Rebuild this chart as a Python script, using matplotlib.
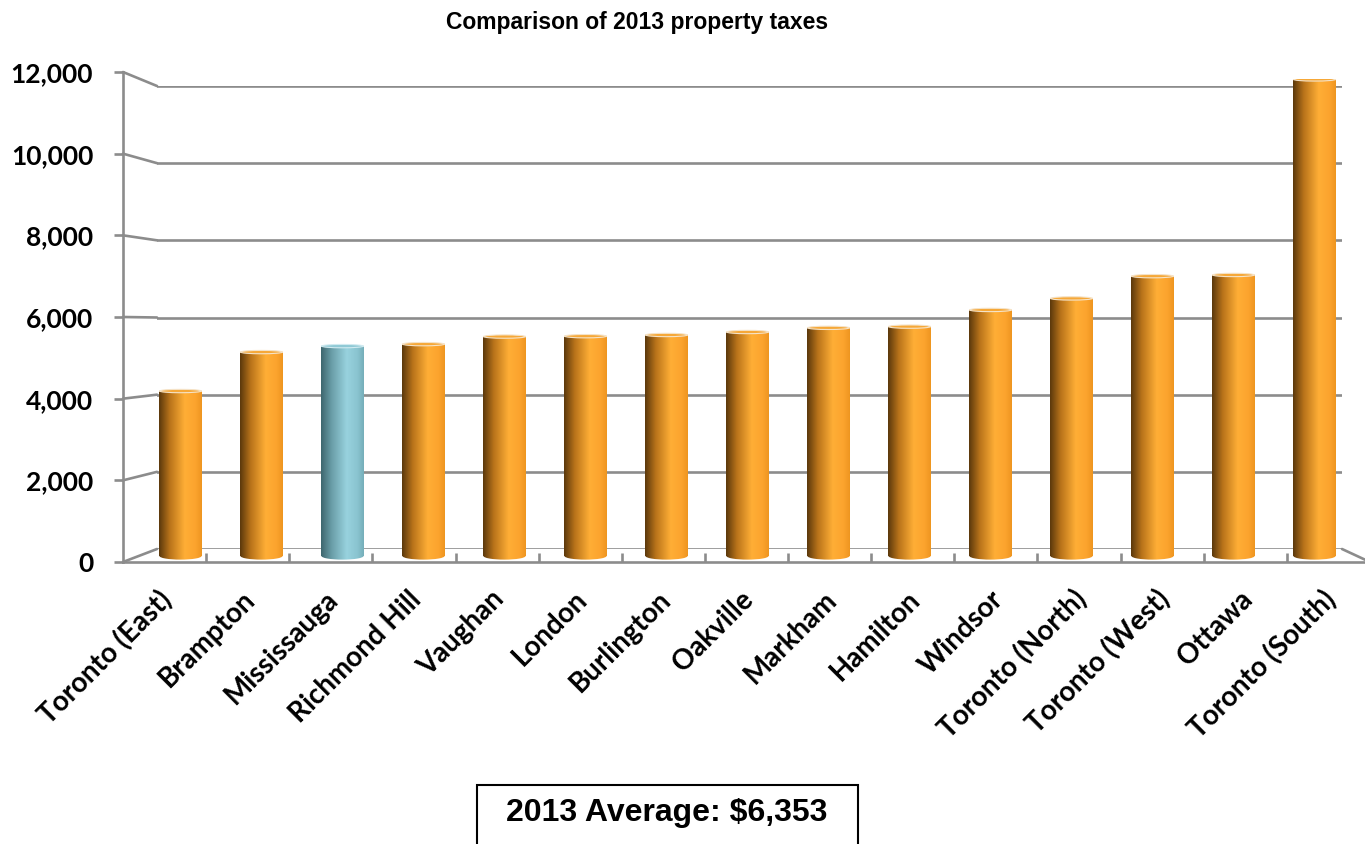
import matplotlib
matplotlib.use("Agg")
import matplotlib.pyplot as plt
import matplotlib.transforms as mtransforms
import numpy as np
from matplotlib.patches import ConnectionPatch, Ellipse, Rectangle
from matplotlib.colors import LinearSegmentedColormap

# ---- data ----
cities = ["Toronto (East)", "Brampton", "Mississauga", "Richmond Hill", "Vaughan",
          "London", "Burlington", "Oakville", "Markham", "Hamilton", "Windsor",
          "Toronto (North)", "Toronto (West)", "Ottawa", "Toronto (South)"]
taxes = [4150, 5130, 5280, 5330, 5520, 5530, 5560, 5635, 5740, 5770, 6190,
         6480, 7040, 7070, 11990]
highlight = "Mississauga"
y_ticks = [0, 2000, 4000, 6000, 8000, 10000, 12000]
title = "Comparison of 2013 property taxes"
average_text = "2013 Average: $6,353"

W, H = 1365, 844
fig = plt.figure(figsize=(W / 100, H / 100), dpi=100)
fig.patch.set_facecolor("white")

def px_axes(l, r, top, bottom):
    ax = fig.add_axes([l / W, 1 - bottom / H, (r - l) / W, (bottom - top) / H])
    ax.patch.set_visible(False)
    return ax

GRID = "#8c8c8c"
LW = 1.9
tick_font = dict(family=["Lato", "DejaVu Sans"], weight="bold", size=19)

# back wall
ax_b = px_axes(157, 1342, 86, 549)
ax_b.set_xlim(0, 1)
ax_b.set_ylim(0, 12000)
ax_b.axis("off")
for v in y_ticks:
    ax_b.axhline(v, color=GRID, lw=LW, zorder=1)

# front frame (left axis + front floor edge)
n = len(cities)
ax_f = px_axes(123, 1370, 72, 562)
ax_f.set_xlim(0, n)
ax_f.set_ylim(0, 12000)
for s in ["top", "right"]:
    ax_f.spines[s].set_visible(False)
for s in ["left", "bottom"]:
    ax_f.spines[s].set_color(GRID)
    ax_f.spines[s].set_linewidth(LW)
ax_f.set_yticks(y_ticks)
ax_f.set_yticklabels([f"{v:,}" for v in y_ticks], **tick_font)
ax_f.tick_params(axis="y", length=6.5, width=LW, color=GRID, pad=15)
ax_f.set_xticks(np.arange(1, n))
ax_f.set_xticklabels([])
ax_f.tick_params(axis="x", which="major", direction="in", length=6.5, width=LW, color=GRID)
ax_f.set_xticks(np.arange(n) + 0.5, minor=True)
ax_f.set_xticklabels(cities, minor=True, rotation=45, ha="right", va="center",
                     rotation_mode="anchor", family=["Lato", "DejaVu Sans"],
                     weight="bold", size=20)
ax_f.tick_params(axis="x", which="minor", length=0, pad=24)
shift = mtransforms.ScaledTranslation(3 / 100, 0, fig.dpi_scale_trans)
for lab in ax_f.get_xticklabels(minor=True):
    lab.set_transform(lab.get_transform() + shift)

# perspective connectors (left wall + floor)
for v in y_ticks:
    cp = ConnectionPatch(xyA=(0, v), coordsA="data", axesA=ax_f,
                         xyB=(0, v), coordsB="data", axesB=ax_b,
                         color=GRID, lw=LW)
    fig.add_artist(cp)
cp = ConnectionPatch(xyA=(n, 0), coordsA="data", axesA=ax_f,
                     xyB=(1, 0), coordsB="data", axesB=ax_b,
                     color=GRID, lw=LW)
fig.add_artist(cp)

# bars (middle depth)
px_per_unit = 477 / 12000
ymin = -300
ax_m = px_axes(140, 1355, 79, 556 - ymin * px_per_unit)
ax_m.set_xlim(-0.5, n - 0.5)
ax_m.set_ylim(ymin, 12000)
ax_m.axis("off")

orange_cmap = LinearSegmentedColormap.from_list(
    "org", [(0, "#5a380c"), (0.25, "#b8731a"), (0.6, "#ffae36"), (0.85, "#fca42e"), (1, "#ee9520")])
blue_cmap = LinearSegmentedColormap.from_list(
    "blu", [(0, "#3e666e"), (0.25, "#6a9ea8"), (0.6, "#98d2de"), (0.85, "#8ac4d0"), (1, "#75aeb9")])
grad = np.linspace(0, 1, 256).reshape(1, -1)

bw = 0.52
bars = ax_m.bar(range(n), taxes, width=bw, facecolor="none", edgecolor="none", zorder=3)
cap_h = 140
for i, (rect, city, val) in enumerate(zip(bars, cities, taxes)):
    cmap = blue_cmap if city == highlight else orange_cmap
    x0 = rect.get_x()
    ext = [x0, x0 + bw, ymin, val]
    im = ax_m.imshow(grad, cmap=cmap, aspect="auto", extent=ext, zorder=3,
                     interpolation="bilinear")
    im.set_clip_path(rect)
    bottom = Ellipse((i, 0), bw, cap_h * 1.3, facecolor="none", edgecolor="none",
                     transform=ax_m.transData)
    ax_m.add_patch(bottom)
    im2 = ax_m.imshow(grad, cmap=cmap, aspect="auto", extent=ext, zorder=3,
                      interpolation="bilinear")
    im2.set_clip_path(bottom)
    top_col = "#8fc9d5" if city == highlight else "#f6a838"
    ax_m.add_patch(Ellipse((i, val), bw, cap_h * 0.6, facecolor=top_col,
                           edgecolor="#f5e3c8" if city != highlight else "#d0eaf0",
                           lw=0.8, zorder=4))

ax_m.set_xlim(-0.5, n - 0.5)
ax_m.set_ylim(ymin, 12000)

# title
fig.text(637 / W, 1 - 22 / H, title, ha="center", va="center",
         family=["Liberation Sans", "DejaVu Sans"], weight="bold", size=16.5)

# average box
box = Rectangle((477 / W, 1 - 860 / H), (858 - 477) / W, (860 - 785) / H,
                transform=fig.transFigure, facecolor="white", edgecolor="black",
                lw=1.5)
fig.add_artist(box)
fig.text(667 / W, 1 - 813 / H, average_text, ha="center", va="center",
         family=["Liberation Sans", "DejaVu Sans"], weight="bold", size=23)

fig.savefig("out.png", dpi=100, facecolor="white")
